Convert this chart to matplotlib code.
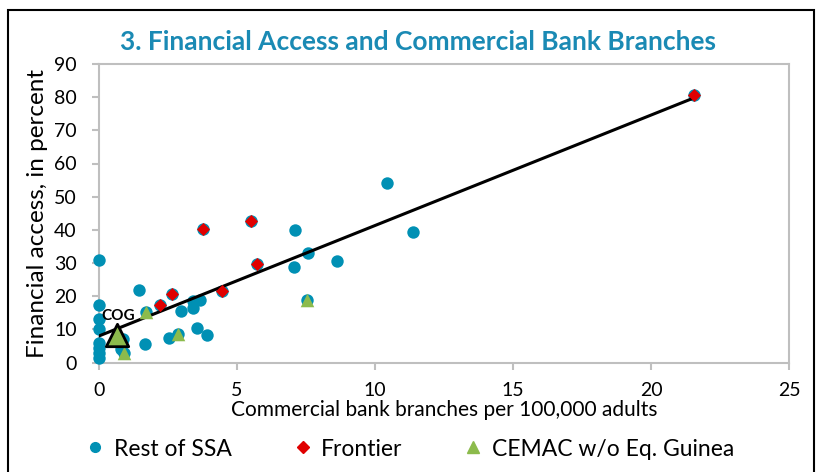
import matplotlib
matplotlib.use("Agg")
import matplotlib.pyplot as plt
from matplotlib.lines import Line2D
from matplotlib.patches import Rectangle

plt.rcParams['font.family'] = ['Lato', 'DejaVu Sans']

# Rest of SSA (blue circles)
ssa_x = [0, 0, 0, 0, 0, 0, 0, 0, 1.45, 0.78, 0.88, 1.67, 2.54, 2.96, 3.39, 3.39,
         3.66, 3.54, 3.9, 7.1, 7.08, 7.56, 8.62, 10.42, 11.37]
ssa_y = [31.0, 17.4, 13.2, 10.2, 5.8, 4.3, 2.8, 1.3, 21.8, 4.0, 7.1, 5.5, 7.5, 15.6,
         18.6, 16.4, 18.9, 10.4, 8.2, 39.8, 28.7, 32.9, 30.5, 54.0, 39.4]

# Frontier (red diamonds)
frontier_x = [2.21, 2.63, 4.45, 5.74, 3.78, 5.5, 21.56]
frontier_y = [17.4, 20.8, 21.5, 29.8, 40.2, 42.6, 80.7]

# CEMAC w/o Eq. Guinea (green triangles)
cemac_x = [1.7, 2.88, 7.52, 0.91]
cemac_y = [15.1, 8.7, 18.9, 2.9]

cog_x, cog_y = 0.66, 8.3

# linear trend
trend_intercept = 8.0
trend_slope = 3.33
trend_x = [0, 21.56]

blue = '#0090B4'
red = '#E00000'
green = '#8CBB4C'
grey = '#BFBFBF'

fig = plt.figure(figsize=(8.18, 4.72), dpi=100)
ax = fig.add_axes([99 / 818, 1 - 362.5 / 472, 690 / 818, 298.5 / 472])

# blue circles (also drawn under the overlay markers)
ax.scatter(ssa_x + frontier_x + cemac_x, ssa_y + frontier_y + cemac_y,
           s=80, c=blue, linewidths=0, zorder=3, clip_on=False)
ax.plot(trend_x, [trend_intercept + trend_slope * v for v in trend_x],
        color='black', lw=2.2, zorder=4)
ax.scatter(frontier_x, frontier_y, marker='D', s=45, c=red, linewidths=0, zorder=5)
ax.scatter(cemac_x, cemac_y, marker='^', s=95, c=green, linewidths=0, zorder=5)
ax.scatter([cog_x], [cog_y], marker='^', s=260, c=green, edgecolors='black',
           linewidths=2, zorder=6)
ax.text(cog_x + 0.05, cog_y + 3.5, 'COG', fontsize=11, fontweight='bold',
        ha='center', va='bottom', zorder=7)

ax.set_xlim(0, 25)
ax.set_ylim(0, 90)
ax.set_xticks(range(0, 26, 5))
ax.set_yticks(range(0, 91, 10))
for sp in ax.spines.values():
    sp.set_color(grey)
    sp.set_linewidth(1.5)
ax.tick_params(axis='both', direction='out', color=grey, width=1.5, length=5,
               labelsize=14)
ax.tick_params(axis='x', pad=9)
ax.tick_params(axis='y', pad=11)

ax.set_xlabel('Commercial bank branches per 100,000 adults', fontsize=15,
              labelpad=1)
ax.set_ylabel('Financial access, in percent', fontsize=17.5, labelpad=4)

fig.text(0.511, 1 - 42 / 472, '3. Financial Access and Commercial Bank Branches',
         ha='center', va='center', fontsize=19, fontweight='bold', color='#1A8AB4')

handles = [
    Line2D([], [], ls='', marker='o', ms=7, color=blue),
    Line2D([], [], ls='', marker='D', ms=6, color=red),
    Line2D([], [], ls='', marker='^', ms=8, color=green),
]
fig.legend(handles, ['Rest of SSA', 'Frontier', 'CEMAC w/o Eq. Guinea'],
           loc='center', bbox_to_anchor=(0.5, 1 - 449 / 472), ncol=3,
           frameon=False, fontsize=16.5, handletextpad=0.3, columnspacing=2.6,
           handlelength=1.0)

fig.patches.append(Rectangle((8 / 818, -0.05), 806 / 818, 1 - 10 / 472 + 0.05,
                             transform=fig.transFigure, fill=False,
                             edgecolor='black', lw=1.5))

fig.savefig('out.png', dpi=100)
